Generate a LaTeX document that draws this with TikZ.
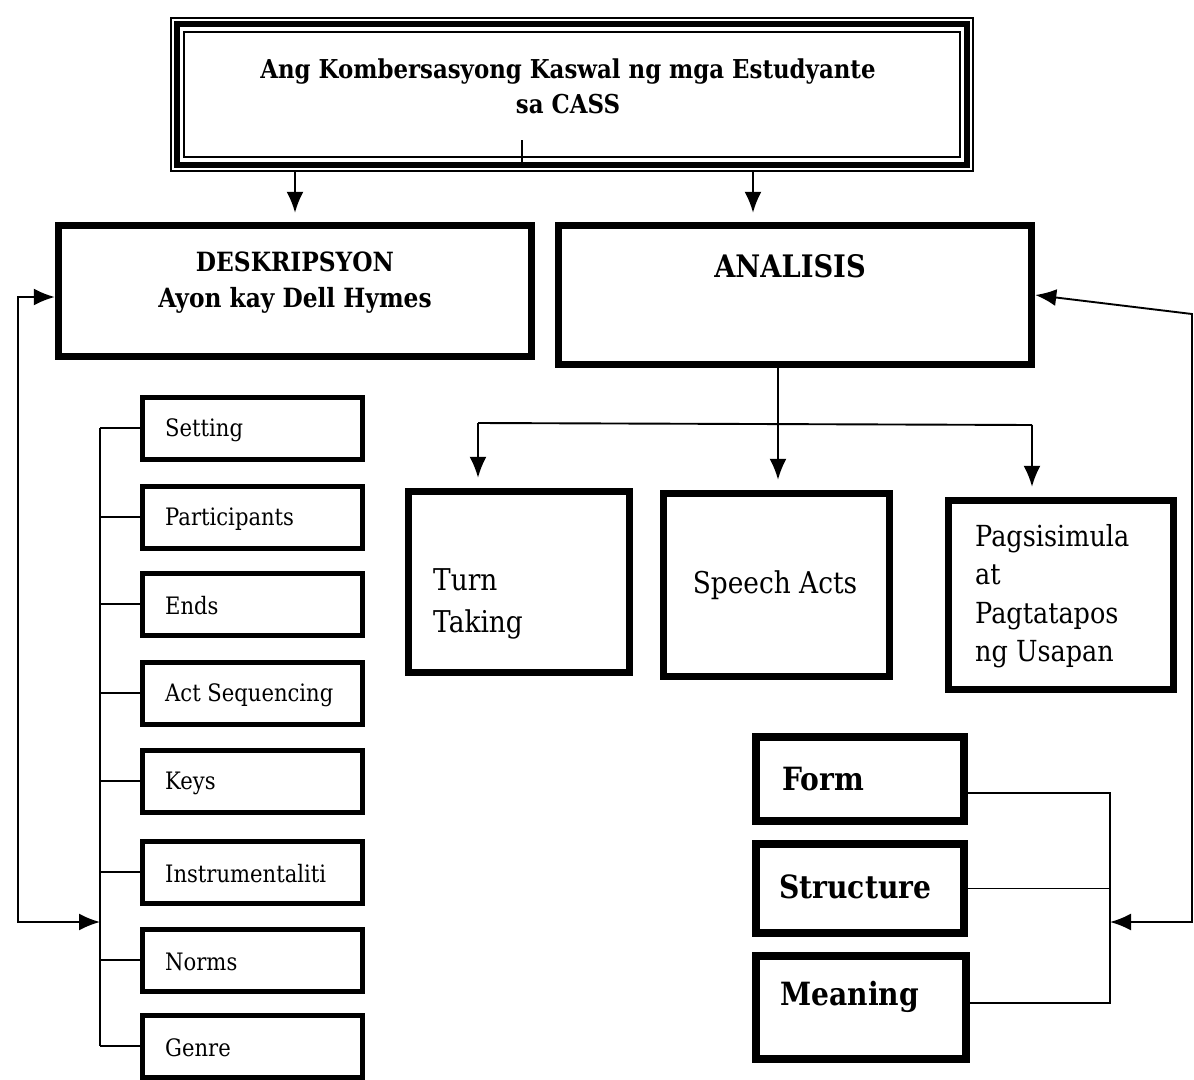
\documentclass[tikz,border=0pt]{standalone}
\usepackage{fontspec}
\setmainfont{DejaVu Serif}[FakeStretch=0.88]
\usetikzlibrary{arrows.meta}
\begin{document}
\begin{tikzpicture}[x=1pt,y=-1pt,
  bigbox/.style={draw, line width=7.5pt, inner sep=0pt},
  fsmbox/.style={draw, line width=8pt, inner sep=0pt, minimum width=208pt},
  smallbox/.style={draw, line width=5pt, inner sep=0pt, minimum width=220pt, minimum height=62pt},
  conn/.style={line width=1.9pt},
  arr/.style={-{Latex[length=21pt,width=17pt]}},
  darr/.style={{Latex[length=21pt,width=17pt]}-{Latex[length=21pt,width=17pt]}},
  stxt/.style={anchor=west, inner sep=0pt, font=\fontsize{24}{28}\selectfont},
  mtxt/.style={inner sep=0pt, font=\fontsize{30}{40}\selectfont},
  htxt/.style={inner sep=0pt, font=\fontsize{27}{34}\selectfont\bfseries},
  ftxt/.style={anchor=west, inner sep=0pt, font=\fontsize{32}{36}\selectfont\bfseries}
]
\fill[white] (0,0) rectangle (1194,1079);
\useasboundingbox (0,0) rectangle (1194,1079);

% title box with triple border
\node[draw, line width=1.8pt, minimum width=802pt, minimum height=153pt, inner sep=0pt] (title) at (572,94.5) {};
\draw[line width=5.5pt] ([shift={(7,7)}]title.north west) rectangle ([shift={(-7,-7)}]title.south east);
\draw[line width=1.8pt] ([shift={(14,15)}]title.north west) rectangle ([shift={(-14,-15)}]title.south east);
\node[htxt, align=center, font=\fontsize{26}{35}\selectfont\bfseries] (titletxt) at (568,86) {Ang Kombersasyong Kaswal ng mga Estudyante\\sa CASS};
\coordinate (stub) at (522,140);
\draw[line width=1.2pt] (stub) -- (522,166);

% main boxes
\node[bigbox, minimum width=473pt, minimum height=131pt] (desk) at (295,291) {};
\node[htxt, align=center, font=\fontsize{26.5}{36}\selectfont\bfseries] (desktxt) at (295,283) {DESKRIPSYON\\Ayon kay Dell Hymes};
\node[bigbox, minimum width=473pt, minimum height=139pt] (anal) at (795,295) {};
\node[htxt, font=\fontsize{31}{36}\selectfont\bfseries] (analtxt) at (790,266) {ANALISIS};

% arrows from title
\coordinate (a1) at (295,0);
\coordinate (a2) at (753,0);
\draw[conn, arr, shorten >=9pt] (title.south -| a1) -- (desk.north -| a1);
\draw[conn, arr, shorten >=9pt] (title.south -| a2) -- (anal.north -| a2);

% small boxes
\node[smallbox] (s1) at (252.5,428) {};
\node[smallbox] (s2) at (252.5,517) {};
\node[smallbox] (s3) at (252.5,604) {};
\node[smallbox] (s4) at (252.5,693) {};
\node[smallbox] (s5) at (252.5,781) {};
\node[smallbox] (s6) at (252.5,872) {};
\node[smallbox] (s7) at (252.5,960) {};
\node[smallbox] (s8) at (252.5,1046) {};
\node[stxt] (t1) at (165,430) {Setting};
\node[stxt] (t2) at (165,519) {Participants};
\node[stxt] (t3) at (165,606) {Ends};
\node[stxt] (t4) at (165,695) {Act Sequencing};
\node[stxt] (t5) at (165,783) {Keys};
\node[stxt] (t6) at (165,874) {Instrumentaliti};
\node[stxt] (t7) at (165,962) {Norms};
\node[stxt] (t8) at (165,1048) {Genre};

% left bracket
\coordinate (brk) at (100,0);
\draw[conn] (s1.west -| brk) -- (s8.west -| brk);
\foreach \b in {s1,s2,s3,s4,s5,s6,s7,s8} {
  \draw[conn] (\b.west -| brk) -- (\b.west);
}
\coordinate (lt) at (18,297);
\coordinate (lb) at (18,922);
\draw[conn, darr] (lt -| desk.west) -- (lt) -- (lb) -- (lb -| brk);

% analysis children
\node[bigbox, minimum width=221pt, minimum height=181pt] (turn) at (519,582) {};
\node[bigbox, minimum width=226pt, minimum height=183pt] (speech) at (776.5,585) {};
\node[bigbox, minimum width=225pt, minimum height=189pt] (pag) at (1061,595) {};
\node[mtxt, anchor=north west, align=left, font=\fontsize{30}{42}\selectfont] (turntxt) at (433,568) {Turn\\Taking};
\node[mtxt] (speechtxt) at (775,585) {Speech Acts};
\node[mtxt, anchor=north west, align=left, font=\fontsize{29}{38.5}\selectfont] (pagtxt) at (975,524) {Pagsisimula\\at\\Pagtatapos\\ng Usapan};

\coordinate (ax) at (778,0);
\coordinate (hl) at (478,423);
\coordinate (hr) at (1032,425);
\draw[conn, arr, shorten >=10pt] (anal.south -| ax) -- (speech.north -| ax);
\draw[conn] (hl) -- (hr);
\draw[conn, arr, shorten >=10pt] (hl) -- (hl |- turn.north);
\draw[conn, arr, shorten >=10pt] (hr) -- (hr |- pag.north);

% form structure meaning
\node[fsmbox, minimum height=84pt] (form) at (860,779) {};
\node[fsmbox, minimum height=89pt] (struct) at (860,888.5) {};
\node[fsmbox, minimum width=210pt, minimum height=103pt] (mean) at (861,1007.5) {};
\node[ftxt] (formtxt) at (782,779) {Form};
\node[ftxt] (structtxt) at (779,887) {Structure};
\node[ftxt] (meantxt) at (780,997) {Meaning};

\coordinate (f1) at (1110,793);
\coordinate (f3) at (1110,1003);
\draw[conn] (f1 -| form.east) -- (f1) -- (f3) -- (f3 -| mean.east);
\draw[conn] (struct.east) -- (struct.east -| f1);

% right loop
\coordinate (rt) at (1192,314);
\coordinate (rb) at (1192,922);
\draw[conn, darr] (anal.east) -- (rt) -- (rb) -- (rb -| f1);
\end{tikzpicture}
\end{document}
